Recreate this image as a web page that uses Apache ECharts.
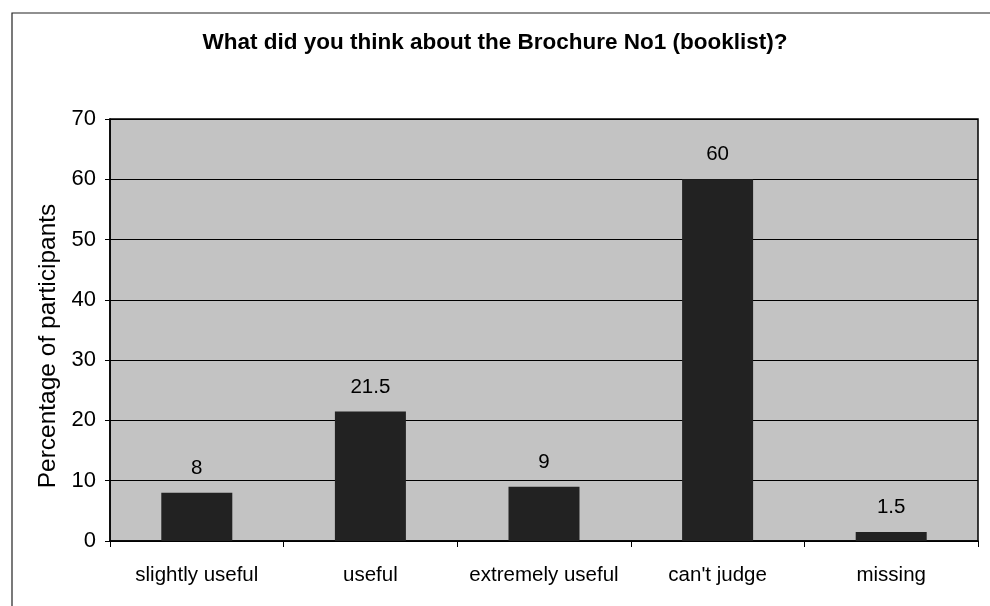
<!DOCTYPE html>
<html>
<head>
<meta charset="utf-8">
<script src="https://cdn.jsdelivr.net/npm/echarts@6/dist/echarts.min.js"></script>
<style>
html,body{margin:0;padding:0;background:#fff;}
#c{width:990px;height:606px;}
</style>
</head>
<body>
<div id="c"></div>
<script>
const categories = ["slightly useful", "useful", "extremely useful", "can't judge", "missing"];
const values = [8, 21.5, 9, 60, 1.5];
const yTicks = { min: 0, max: 70, interval: 10 };
const titleText = "What did you think about the Brochure No1 (booklist)?";
const yAxisTitle = "Percentage of participants";

const chart = echarts.init(document.getElementById('c'), null, { renderer: 'canvas' });
const font = "'Liberation Sans', Arial, sans-serif";
chart.setOption({
  animation: false,
  backgroundColor: '#ffffff',
  graphic: [{
    type: 'rect',
    shape: { x: 12, y: 13, width: 1000, height: 700 },
    style: { fill: 'none', stroke: '#222', lineWidth: 1.2 },
    z: -1
  }],
  title: {
    text: titleText,
    left: 'center',
    top: 26,
    textStyle: { fontFamily: font, fontWeight: 'bold', fontSize: 22.5, color: '#000' }
  },
  grid: {
    left: 110, right: 12, top: 119, bottom: 65,
    show: true, backgroundColor: '#c3c3c3', borderColor: '#000', borderWidth: 1.5,
    containLabel: false
  },
  xAxis: {
    type: 'category',
    data: categories,
    axisLine: { lineStyle: { color: '#000', width: 1.5 } },
    axisTick: { show: true, interval: 0, alignWithLabel: false, length: 6, lineStyle: { color: '#000' } },
    axisLabel: { interval: 0, fontFamily: font, fontSize: 20.5, color: '#000', margin: 24 }
  },
  yAxis: {
    type: 'value',
    min: yTicks.min, max: yTicks.max, interval: yTicks.interval,
    name: yAxisTitle,
    nameLocation: 'middle',
    nameGap: 47,
    nameTextStyle: { fontFamily: font, fontSize: 24.5, color: '#000', padding: [0, 32, 0, 0] },
    axisLine: { show: true, lineStyle: { color: '#000', width: 1.5 } },
    axisTick: { show: true, length: 5, lineStyle: { color: '#000' } },
    axisLabel: { fontFamily: font, fontSize: 22, color: '#000', margin: 14 },
    splitLine: { show: true, lineStyle: { color: '#000', width: 1 } }
  },
  series: [{
    type: 'bar',
    data: values,
    barWidth: 71,
    itemStyle: { color: '#222222' },
    label: {
      show: true, position: 'top', distance: 14,
      fontFamily: font, fontSize: 20.5, color: '#000'
    }
  }]
});
</script>
</body>
</html>
